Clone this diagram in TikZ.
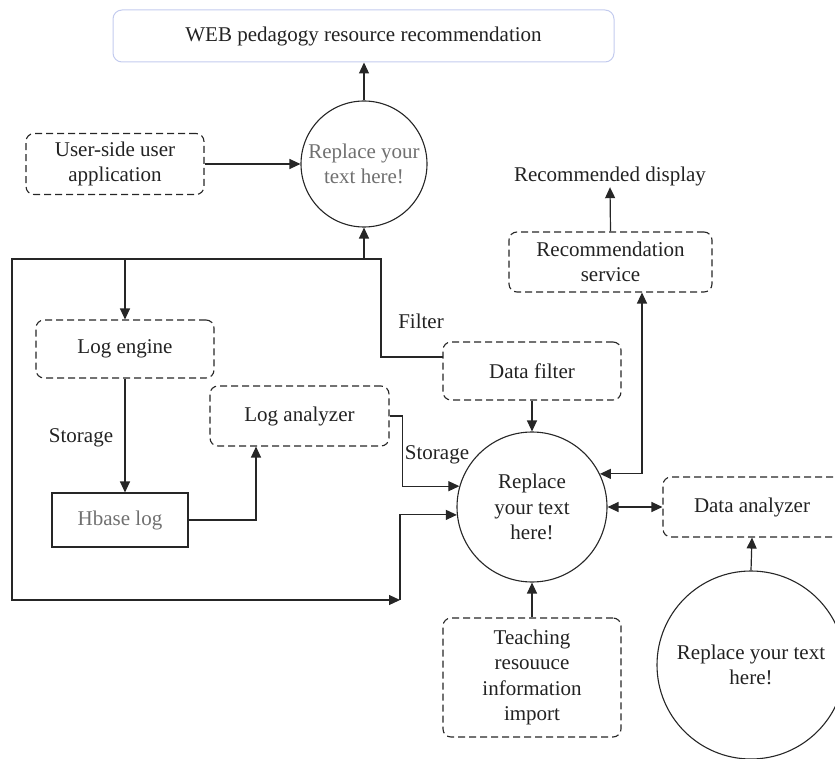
\documentclass[tikz,border=0pt]{standalone}
\usepackage{fontspec}
\setmainfont{Liberation Serif}
\usetikzlibrary{arrows.meta}
\definecolor{ink}{HTML}{262626}
\definecolor{txt}{HTML}{222222}
\definecolor{soft}{HTML}{707070}
\definecolor{lavender}{HTML}{C3CBEE}
\tikzset{
  every node/.style={font=\fontsize{21}{25.5}\selectfont, text=txt, align=center, inner sep=0pt},
  dbox/.style={draw=ink, line width=1.1pt, dash pattern=on 7pt off 4pt, rounded corners=8pt},
  sbox/.style={draw=ink, line width=1.1pt},
  disc/.style={draw=ink, line width=1.1pt, circle},
  link/.style={draw=ink, line width=1.2pt, -{Triangle[length=11pt,width=10pt]}},
  both/.style={draw=ink, line width=1.2pt, {Triangle[length=11pt,width=10pt]}-{Triangle[length=11pt,width=10pt]}},
}
\begin{document}
\begin{tikzpicture}[x=1pt,y=-1pt]
\useasboundingbox (0,0) rectangle (835,759);
\clip (0,0) rectangle (835,759);

% boxes and processes
\node[draw=lavender, line width=1pt, rounded corners=9pt, minimum width=501pt, minimum height=52pt] (top) at (363.5,36) {WEB pedagogy resource recommendation};
\node[disc, minimum size=126pt, text=soft] (c1) at (364,164) {Replace your\\text here!};
\node[dbox, minimum width=178pt, minimum height=61pt] (user) at (115,164) {User-side user\\application};
\node[dbox, minimum width=178pt, minimum height=58pt] (logeng) at (125,349) {Log engine};
\node[sbox, minimum width=136pt, minimum height=54pt, text=soft] (hbase) at (120,520) {Hbase log};
\node[dbox, minimum width=179pt, minimum height=60pt] (loganal) at (299.5,416) {Log analyzer};
\node[dbox, minimum width=178pt, minimum height=58pt] (filter) at (532,371) {Data filter};
\node[dbox, minimum width=203pt, minimum height=60pt] (rec) at (610.5,262) {Recommendation\\service};
\node[minimum height=22pt] (disp) at (610,176) {Recommended display};
\node[disc, minimum size=150pt] (c2) at (532,507) {Replace\\your text\\here!};
\node[dbox, minimum width=178pt, minimum height=60pt] (ana) at (752,507) {Data analyzer};
\node[disc, minimum size=188pt] (c3) at (751,665) {Replace your text\\here!};
\node[dbox, minimum width=178pt, minimum height=119pt] (teach) at (532,677.5) {Teaching\\resouuce\\information\\import};

% labels on the connectors
\node (lfilter) at (421,321) {Filter};
\node (lstore1) at (81,438) {Storage};
\node (lstore2) at (437,455) {Storage};

% corner points of the feedback loop
\coordinate (tl) at (12,259);
\coordinate (tr) at (381,259);
\coordinate (bl) at (12,600);
\coordinate (br) at (400,600);
\coordinate (fin) at (443,357);

% connectors
\draw[link] (c1.north) -- (c1.north |- top.south);
\draw[link] (user.east) -- (user.east -| c1.west);
\draw[link] (fin) -| (tr) -- (tl) -- (bl) -- (br);
\draw[link] (c1.south |- tl) -- (c1.south);
\draw[link] (logeng.north |- tl) -- (logeng.north);
\draw[link] (logeng.south) -- (logeng.south |- hbase.north);
\draw[link] (hbase.east) -| ([xshift=-43.5pt]loganal.south);
\draw[link] (loganal.east) -- ++(13,0) |- (c2.164);
\draw[link] (br) |- (c2.186);
\draw[link] (filter.south) -- (c2.north);
\draw[both] (c2.26) -| ([xshift=31.5pt]rec.south);
\draw[link] (rec.north) -- (disp.south);
\draw[both] (c2.east) -- (ana.west);
\draw[link] (c3.north) -- (ana.south);
\draw[link] (teach.north) -- (c2.south);
\end{tikzpicture}
\end{document}
